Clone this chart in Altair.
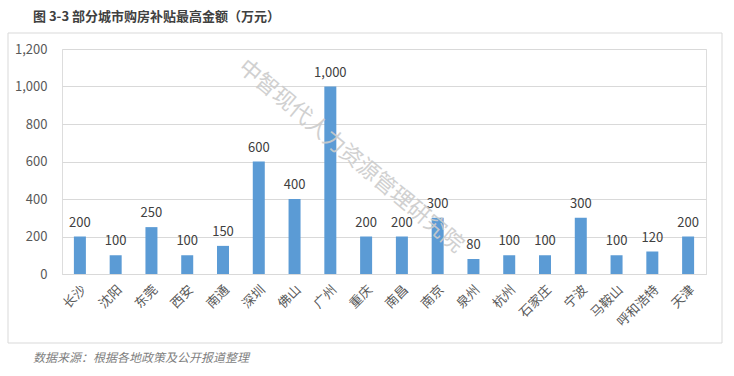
import altair as alt
import pandas as pd

cities = ["长沙", "沈阳", "东莞", "西安", "南通", "深圳", "佛山", "广州", "重庆",
          "南昌", "南京", "泉州", "杭州", "石家庄", "宁波", "马鞍山", "呼和浩特", "天津"]
values = [200, 100, 250, 100, 150, 600, 400, 1000, 200,
          200, 300, 80, 100, 100, 300, 100, 120, 200]
y_ticks = [0, 200, 400, 600, 800, 1000, 1200]

title_text = "图 3-3 部分城市购房补贴最高金额（万元）"
source_text = "数据来源：根据各地政策及公开报道整理"
watermark_text = "中智现代人力资源管理研究院"

FONT = "Noto Sans CJK SC"
df = pd.DataFrame({"city": cities, "value": values})
one = pd.DataFrame({"k": [0]})

x = alt.X("city:N", sort=cities, title=None,
          scale=alt.Scale(paddingInner=0.66, paddingOuter=0.33),
          axis=alt.Axis(labelAngle=-45, labelFont=FONT, labelFontSize=13,
                        labelColor="#595959", ticks=False, domainColor="#D9D9D9",
                        labelPadding=9))
y = alt.Y("value:Q", title=None,
          scale=alt.Scale(domain=[0, 1200], nice=False),
          axis=alt.Axis(values=y_ticks, tickCount=7, format=",.0f", labelFont=FONT,
                        labelFontSize=13, labelColor="#595959", ticks=False, domain=False,
                        labelOverlap=False, gridColor="#D9D9D9", labelPadding=15))

bars = alt.Chart(df).mark_bar(color="#5B9BD5", size=12).encode(x=x, y=y)
labels = alt.Chart(df).mark_text(baseline="bottom", dy=-7, font=FONT, fontSize=13,
                                 color="#404040").encode(
    x=x, y=y, text=alt.Text("value:Q", format=",.0f"))

border = alt.Chart(one).mark_rect(fill=None, stroke="#D9D9D9", strokeWidth=1).encode(
    x=alt.value(-54), x2=alt.value(660), y=alt.value(-16), y2=alt.value(294))

title = alt.Chart(one).mark_text(align="left", baseline="middle", font=FONT, fontSize=13,
                                 fontWeight="bold", color="#404040").encode(
    x=alt.value(-29), y=alt.value(-32), text=alt.value(title_text))

source = alt.Chart(one).mark_text(align="left", baseline="middle", font=FONT, fontSize=12,
                                  fontStyle="italic", color="#7F7F7F").encode(
    x=alt.value(-29), y=alt.value(309), text=alt.value(source_text))

watermark = alt.Chart(one).mark_text(align="center", baseline="middle", font=FONT,
                                     fontSize=22, angle=40, color="#CCCCCC",
                                     opacity=0.9).encode(
    x=alt.value(289), y=alt.value(107), text=alt.value(watermark_text))

chart = alt.layer(border, bars, labels, watermark, title, source).properties(
    width=644, height=225,
    autosize=alt.AutoSizeParams(type="none"),
    padding={"left": 62, "top": 49, "right": 28, "bottom": 102},
).configure_view(stroke=None).configure(background="white")

chart.save("out.html", embed_options={"renderer": "svg", "actions": False})
